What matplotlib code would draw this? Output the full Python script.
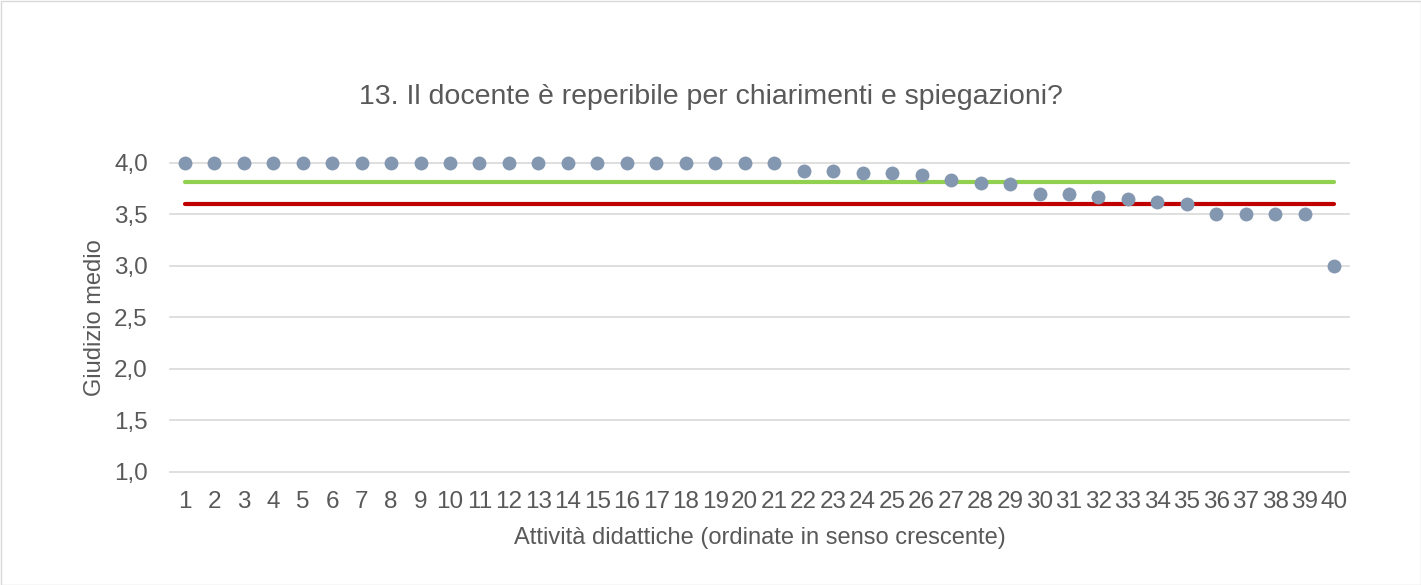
import matplotlib
matplotlib.use("Agg")
import matplotlib.pyplot as plt
from matplotlib.patches import Rectangle
from matplotlib.ticker import FuncFormatter

plt.rcParams['font.family'] = ['Liberation Sans', 'DejaVu Sans']

activities = list(range(1, 41))
scores = [4.0]*21 + [3.92, 3.92, 3.90, 3.90, 3.88, 3.835, 3.80, 3.79,
                     3.70, 3.70, 3.67, 3.65, 3.62, 3.60,
                     3.50, 3.50, 3.50, 3.50, 3.0]
mean_value = 3.81
threshold = 3.60
yticks = [1.0, 1.5, 2.0, 2.5, 3.0, 3.5, 4.0]

fig = plt.figure(figsize=(14.21, 5.85), dpi=100)
fig.patches.append(Rectangle((0.5/1421, 0.5/585), 1 - 1/1421, 1 - 1/585, transform=fig.transFigure,
                             fill=False, edgecolor='#D9D9D9', linewidth=1))
ax = fig.add_axes([170/1421, 113.3/585, 1179/1421, 309/585])

for v in yticks:
    ax.axhline(v, color='#D9D9D9', lw=1.2, clip_on=False, zorder=1)
ax.plot([activities[0], activities[-1]], [mean_value, mean_value], color='#92D050', lw=3, solid_capstyle='round', zorder=3)
ax.plot([activities[0], activities[-1]], [threshold, threshold], color='#C00000', lw=3, solid_capstyle='round', zorder=3)
ax.plot(activities, scores, 'o', color='#8497B0', ms=10, mec='none', clip_on=False, zorder=4)

ax.set_xlim(0.5, 40.5)
ax.set_ylim(1.0, 4.0)
ax.set_yticks(yticks)
ax.yaxis.set_major_formatter(FuncFormatter(lambda v, p: f"{v:.1f}".replace('.', ',')))
ax.set_xticks(activities)
ax.set_xticklabels([str(a) for a in activities])
for s in ax.spines.values():
    s.set_visible(False)
ax.tick_params(length=0, labelsize=17.5, colors='#595959')
ax.tick_params(axis='x', pad=14)
ax.tick_params(axis='y', pad=16)

ax.set_xlabel('Attività didattiche (ordinate in senso crescente)', fontsize=17, color='#595959', labelpad=10)
ax.set_ylabel('Giudizio medio', fontsize=17, color='#595959', labelpad=6)
fig.text(0.5, 1 - 97/585, '13. Il docente è reperibile per chiarimenti e spiegazioni?', ha='center', va='center',
         fontsize=20.5, color='#595959')

fig.savefig('out.png', dpi=100)
